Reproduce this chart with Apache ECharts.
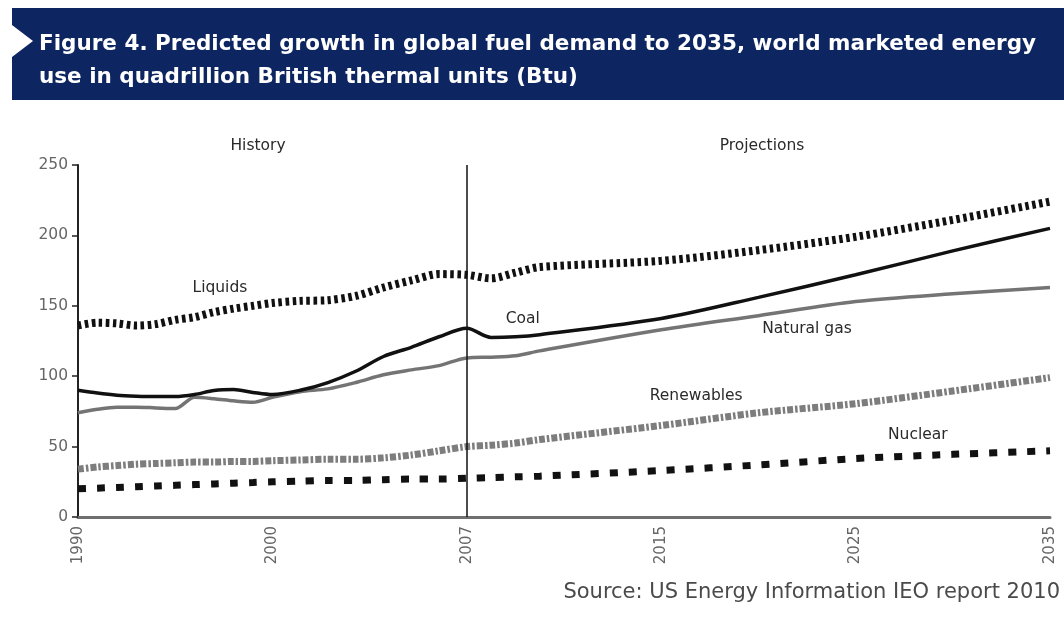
<!DOCTYPE html>
<html>
<head>
<meta charset="utf-8">
<script src="https://cdn.jsdelivr.net/npm/echarts@6/dist/echarts.min.js"></script>
<style>
  html, body { margin: 0; padding: 0; background: #ffffff; }
  #chart { width: 1064px; height: 619px; }
</style>
</head>
<body>
<div id="chart"></div>
<script>
// World marketed energy use by fuel type, quadrillion Btu
const years = [1990, 1991, 1992, 1993, 1994, 1995, 1996, 1997, 1998, 1999,
               2000, 2001, 2002, 2003, 2004, 2005, 2006, 2007,
               2008, 2009, 2010, 2015, 2020, 2025, 2030, 2035];

const liquids = [136, 138, 137.5, 136, 137, 140, 142, 145.5, 148, 150,
                 152, 153.5, 154, 157, 163, 168, 172.5, 172,
                 169.5, 173.5, 177.5, 182, 189.5, 199, 211, 224];

const coal = [90, 88, 86.5, 85.8, 85.5, 85.5, 87, 89.8, 90.5, 88.5,
              87, 90, 95.5, 103.5, 114, 120.5, 128, 134,
              127.5, 128, 129.5, 141, 156, 172, 189, 205];

const naturalGas = [74, 76.5, 78, 78, 77.5, 77, 85, 84, 82.5, 81.5,
                    85, 89, 91, 95.5, 101, 104.5, 107.5, 113,
                    113.5, 114.5, 118, 133, 143, 153, 158.5, 163];

const renewables = [34, 35.5, 36.5, 37.5, 38, 38.5, 39, 39, 39.5, 39.5,
                    40, 40.5, 41, 41, 42, 44, 47, 50,
                    51, 52.5, 55, 65, 74, 80.5, 89.5, 99];

const nuclear = [20, 20.5, 21, 21.5, 22, 22.5, 23, 23.5, 24, 24.5,
                 25, 25.5, 26, 26, 26.5, 27, 27, 27.5,
                 28, 28.5, 29, 33, 37, 41.5, 44.5, 47];

// Axis ticks: labelled years are spaced evenly along the axis
const tickYears = [1990, 2000, 2007, 2015, 2025, 2035];
const tickLabels = ['1990', '2000', '2007', '2015', '2025', '2035'];
const yTicks = [0, 50, 100, 150, 200, 250];

// Inline series names, placed at [year, value]
const seriesLabels = [
  ['Liquids', 1997.3, 162.6],
  ['Coal', 2009.3, 140.6],
  ['Natural gas', 2022.5, 133.5],
  ['Renewables', 2016.8, 86],
  ['Nuclear', 2028.2, 58.2]
];

// Piecewise-linear year scale: each gap between labelled years gets one unit
function yearPos(y) {
  for (let i = 0; i < tickYears.length - 1; i++) {
    const a = tickYears[i], b = tickYears[i + 1];
    if (y <= b || i === tickYears.length - 2) {
      return i + (y - a) / (b - a);
    }
  }
  return 0;
}

function pairs(values) {
  return values.map((v, i) => [yearPos(years[i]), v]);
}

const chart = echarts.init(document.getElementById('chart'), null, { renderer: 'canvas' });

function lineSeries(name, values, color, width, dash, z) {
  return {
    name: name,
    type: 'line',
    data: pairs(values),
    showSymbol: false,
    symbol: 'none',
    smooth: 0.3,
    z: z,
    lineStyle: { color: color, width: width, type: dash, cap: 'butt' },
    emphasis: { disabled: true }
  };
}

const labelFont = 'DejaVu Sans';

const option = {
  animation: false,
  backgroundColor: '#ffffff',
  grid: { left: 78, right: 14, top: 165, bottom: 102, containLabel: false },
  xAxis: {
    type: 'value',
    min: 0,
    max: tickYears.length - 1,
    interval: 1,
    splitLine: { show: false },
    axisTick: { show: false },
    axisLine: { show: true, lineStyle: { color: '#6f6f6f', width: 3 } },
    axisLabel: {
      rotate: 90,
      margin: 9,
      color: '#666',
      fontFamily: labelFont,
      fontSize: 15,
      formatter: v => tickLabels[Math.round(v)] || ''
    }
  },
  yAxis: {
    type: 'value',
    min: yTicks[0],
    max: yTicks[yTicks.length - 1],
    interval: yTicks[1] - yTicks[0],
    splitLine: { show: false },
    axisLine: { show: true, lineStyle: { color: '#222', width: 2 } },
    axisTick: { show: true, length: 6, lineStyle: { color: '#222', width: 1.5 } },
    axisLabel: { color: '#666', fontFamily: labelFont, fontSize: 15.5, margin: 10 }
  },
  series: [
    lineSeries('Nuclear', nuclear, '#111', 7, [8, 11], 2),
    lineSeries('Renewables', renewables, '#7d7d7d', 7, [6, 2, 2.5, 2], 2),
    lineSeries('Natural gas', naturalGas, '#747474', 3.5, 'solid', 3),
    lineSeries('Coal', coal, '#111', 3.5, 'solid', 4),
    Object.assign(lineSeries('Liquids', liquids, '#111', 8, [3.5, 3.5], 5), {
      markLine: {
        silent: true,
        symbol: ['none', 'none'],
        label: { show: false },
        lineStyle: { color: '#111', width: 1.5, type: 'solid' },
        data: [{ xAxis: yearPos(2007) }]
      }
    }),
    {
      name: 'labels',
      type: 'scatter',
      symbolSize: 1,
      itemStyle: { color: 'rgba(0,0,0,0)' },
      z: 6,
      data: seriesLabels.map(d => ({ name: d[0], value: [yearPos(d[1]), d[2]] })),
      label: {
        show: true,
        position: 'inside',
        formatter: '{b}',
        color: '#2a2a2a',
        opacity: 1,
        textBorderWidth: 0,
        textBorderColor: 'transparent',
        fontFamily: labelFont,
        fontSize: 15.5
      },
      emphasis: { disabled: true }
    }
  ],
  graphic: [
    {
      type: 'rect',
      shape: { x: 12, y: 8, width: 1052, height: 92 },
      style: { fill: '#0d2560' }
    },
    {
      type: 'polygon',
      shape: { points: [[12, 25], [33, 41], [12, 57]] },
      style: { fill: '#ffffff' }
    },
    {
      type: 'text',
      left: 39,
      top: 28,
      style: {
        text: 'Figure 4. Predicted growth in global fuel demand to 2035, world marketed energy\nuse in quadrillion British thermal units (Btu)',
        fill: '#ffffff',
        font: 'bold 21.5px "DejaVu Sans"',
        lineHeight: 33
      }
    },
    {
      type: 'text',
      x: 258, y: 146,
      style: { text: 'History', fill: '#2a2a2a', font: '15.5px "DejaVu Sans"', align: 'center', verticalAlign: 'middle' }
    },
    {
      type: 'text',
      x: 762, y: 146,
      style: { text: 'Projections', fill: '#2a2a2a', font: '15.5px "DejaVu Sans"', align: 'center', verticalAlign: 'middle' }
    },
    {
      type: 'text',
      x: 1060, y: 593,
      style: { text: 'Source: US Energy Information IEO report 2010', fill: '#4a4a4a', font: '21px "DejaVu Sans"', align: 'right', verticalAlign: 'middle' }
    }
  ]
};

chart.setOption(option);
</script>
</body>
</html>
